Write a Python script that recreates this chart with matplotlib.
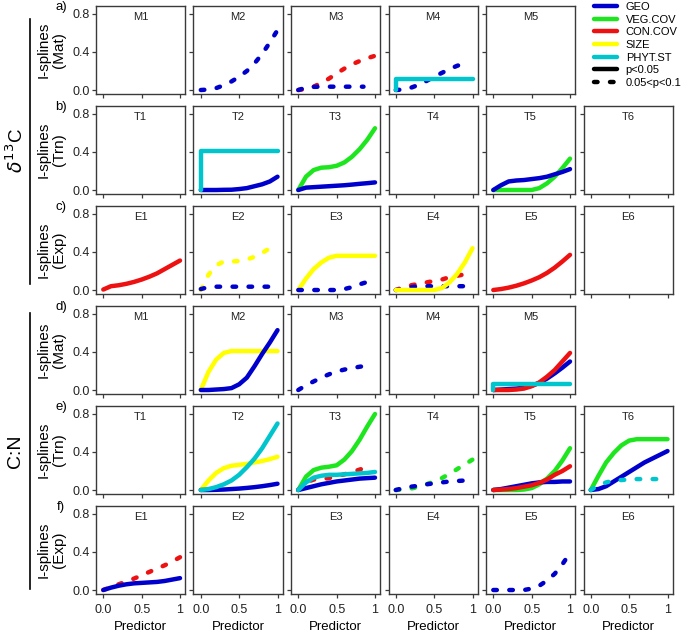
import matplotlib
matplotlib.use("Agg")
import matplotlib.pyplot as plt
from matplotlib.lines import Line2D

plt.rcParams["font.family"] = ["Liberation Sans", "DejaVu Sans"]

W, H = 685, 633

# predictor grid (0..1) and the "jump" grid for step shaped splines
pred = [0.0, 0.1, 0.2, 0.3, 0.4, 0.5, 0.6, 0.7, 0.8, 0.9, 1.0]
step = [0.0, 0.0, 1.0]

variables = ["GEO", "VEG.COV", "CON.COV", "SIZE", "PHYT.ST"]
colours = ["#0000CD", "#1EE61E", "#EE1111", "#FFFF00", "#00C5CD"]

row_letters = ["a)", "b)", "c)", "d)", "e)", "f)"]
row_types = ["Mat", "Trn", "Exp", "Mat", "Trn", "Exp"]
row_prefix = ["M", "T", "E", "M", "T", "E"]
row_ncols = [5, 6, 6, 5, 6, 6]

# ---- delta13C, maturation (a)
a_m2_geo = [0, .005, .02, .05, .09, .14, .2, .28, .38, .5, .63]
a_m3_con = [0, .01, .035, .075, .12, .175, .225, .27, .305, .335, .36]
a_m3_geo_x = [0, .1, .2, .3, .4, .5, .6, .7, .85]
a_m3_geo = [0, .025, .033, .035, .035, .035, .035, .035, .035]
a_m4_phyt = [0, .12, .12]
a_m4_geo = [0, .005, .025, .055, .095, .14, .18, .22, .255, .28]

# ---- delta13C, transition (b)
b_t2_phyt = [0, .41, .41]
b_t2_geo = [0, 0, 0, .002, .003, .01, .02, .04, .06, .09, .14]
b_t3_veg = [0, .14, .21, .235, .24, .255, .29, .35, .43, .53, .65]
b_t3_geo = [0, .025, .03, .035, .04, .045, .05, .057, .065, .072, .08]
b_t5_geo = [0, .05, .09, .1, .105, .115, .125, .14, .165, .19, .22]
b_t5_veg = [0, 0, 0, 0, 0, 0, .02, .07, .14, .23, .33]

# ---- delta13C, exploitation (c)
c_e1_con = [.005, .04, .05, .065, .085, .11, .14, .175, .22, .265, .31]
c_e2_x = [0, .1, .2, .3, .4, .5, .6, .7, .8, .9, .95]
c_e2_size = [0, .16, .26, .3, .3, .305, .32, .35, .39, .44, .47]
c_e2_geo = [.01, .03, .035, .035, .035, .035, .035, .035, .035, .035, .035]
c_e3_size = [0, .12, .22, .29, .34, .36, .36, .36, .36, .36, .36]
c_e3_geo = [0, 0, 0, 0, 0, 0, .01, .03, .06, .085, .11]
c_e4_size = [0, 0, 0, 0, 0, 0, .02, .08, .17, .29, .44]
c_e4_con = [0, .03, .05, .065, .08, .095, .11, .135, .15, .165, .175]
c_e4_geo = [0, .01, .03, .04, .04, .04, .04, .04, .04, .04, .04]
c_e5_con = [0, .01, .025, .045, .07, .1, .135, .18, .235, .3, .37]

# ---- C:N, maturation (d)
d_m2_size = [0, .19, .32, .39, .41, .41, .41, .41, .41, .41, .41]
d_m2_geo = [0, 0, .005, .01, .02, .06, .13, .25, .38, .5, .63]
d_m3_geo = [0, .05, .09, .13, .165, .195, .215, .23, .245, .255]
d_m5_phyt = [0, .06, .06]
d_m5_con = [0, 0, 0, .005, .015, .04, .08, .14, .21, .3, .39]
d_m5_geo = [0, .005, .01, .015, .025, .045, .075, .12, .175, .235, .3]

# ---- C:N, transition (e)
e_t2_phyt = [0, .01, .03, .06, .1, .16, .24, .33, .44, .57, .7]
e_t2_size = [0, .1, .18, .23, .255, .265, .275, .29, .305, .325, .35]
e_t2_geo = [0, 0, .002, .005, .01, .015, .022, .03, .04, .052, .066]
e_t3_veg = [0, .14, .21, .235, .245, .26, .32, .41, .53, .67, .8]
e_t3_phyt = [0, .08, .13, .15, .16, .16, .165, .17, .175, .18, .19]
e_t3_con = [0, .08, .11, .115, .125, .145, .165, .19, .215, .24]
e_t3_geo = [0, .02, .04, .06, .075, .09, .1, .11, .12, .125, .13]
e_t4_veg = [0, .005, .015, .035, .06, .09, .125, .17, .22, .27, .32]
e_t4_geo = [0, .02, .035, .045, .06, .07, .08, .09, .095, .1, .1]
e_t5_veg = [0, 0, 0, 0, .005, .02, .06, .12, .2, .31, .44]
e_t5_con = [0, .005, .01, .02, .035, .05, .075, .11, .16, .2, .25]
e_t5_geo = [0, .01, .025, .04, .055, .07, .08, .085, .085, .09, .09]
e_t6_veg = [0, .15, .29, .39, .47, .52, .535, .535, .535, .535, .535]
e_t6_geo = [0, .01, .04, .09, .14, .19, .24, .29, .33, .37, .41]
e_t6_phyt = [0, .05, .08, .1, .105, .11, .115, .115, .115, .115, .115]

# ---- C:N, exploitation (f)
f_e1_con = [0, .03, .06, .09, .12, .155, .19, .225, .26, .3, .345]
f_e1_geo = [0, .025, .045, .06, .07, .075, .08, .085, .095, .11, .125]
f_e5_geo = [0, 0, 0, 0, 0, .015, .045, .1, .17, .27, .39]

# (row, col) -> [(variable, significant?, x, y)]
curves = {
    (0, 1): [("GEO", False, pred, a_m2_geo)],
    (0, 2): [("CON.COV", False, pred, a_m3_con), ("GEO", False, a_m3_geo_x, a_m3_geo)],
    (0, 3): [("GEO", False, pred[:10], a_m4_geo), ("PHYT.ST", True, step, a_m4_phyt)],
    (1, 1): [("GEO", True, pred, b_t2_geo), ("PHYT.ST", True, step, b_t2_phyt)],
    (1, 2): [("VEG.COV", True, pred, b_t3_veg), ("GEO", True, pred, b_t3_geo)],
    (1, 4): [("VEG.COV", True, pred, b_t5_veg), ("GEO", True, pred, b_t5_geo)],
    (2, 0): [("CON.COV", True, pred, c_e1_con)],
    (2, 1): [("SIZE", False, c_e2_x, c_e2_size), ("GEO", False, c_e2_x, c_e2_geo)],
    (2, 2): [("SIZE", True, pred, c_e3_size), ("GEO", False, pred, c_e3_geo)],
    (2, 3): [("CON.COV", False, pred, c_e4_con), ("GEO", False, c_e2_x, c_e4_geo),
             ("SIZE", True, pred, c_e4_size)],
    (2, 4): [("CON.COV", True, pred, c_e5_con)],
    (3, 1): [("SIZE", True, pred, d_m2_size), ("GEO", True, pred, d_m2_geo)],
    (3, 2): [("GEO", False, pred[:10], d_m3_geo)],
    (3, 4): [("GEO", True, pred, d_m5_geo), ("CON.COV", True, pred, d_m5_con),
             ("PHYT.ST", True, step, d_m5_phyt)],
    (4, 1): [("SIZE", True, pred, e_t2_size), ("GEO", True, pred, e_t2_geo),
             ("PHYT.ST", True, pred, e_t2_phyt)],
    (4, 2): [("VEG.COV", True, pred, e_t3_veg), ("CON.COV", False, pred[:10], e_t3_con),
             ("GEO", True, pred, e_t3_geo), ("PHYT.ST", True, pred, e_t3_phyt)],
    (4, 3): [("VEG.COV", False, pred, e_t4_veg), ("GEO", False, pred, e_t4_geo)],
    (4, 4): [("VEG.COV", True, pred, e_t5_veg), ("GEO", True, pred, e_t5_geo),
             ("CON.COV", True, pred, e_t5_con)],
    (4, 5): [("VEG.COV", True, pred, e_t6_veg), ("GEO", True, pred, e_t6_geo),
             ("PHYT.ST", False, pred, e_t6_phyt)],
    (5, 0): [("CON.COV", False, pred, f_e1_con), ("GEO", True, pred, f_e1_geo)],
    (5, 4): [("GEO", False, pred, f_e5_geo)],
}

LW = 3.2
DASH = (0, (0.8, 2.8))
col_of = dict(zip(variables, colours))

fig = plt.figure(figsize=(W / 100, H / 100), dpi=100)

def fx(px):
    return px / W

def fy(px):
    return 1 - px / H

pw, ph = 89, 88
for r in range(6):
    top = 6 + 100 * r
    for c in range(row_ncols[r]):
        left = 96 + 97.5 * c
        ax = fig.add_axes([fx(left), fy(top + ph), pw / W, ph / H])
        ax.set_xlim(-0.095, 1.065)
        ax.set_ylim(-0.042, 0.884)
        for s in ax.spines.values():
            s.set_color("#3a3a3a")
            s.set_linewidth(1.0)
        ax.set_xticks([0, 0.5, 1])
        ax.set_yticks([0, 0.4, 0.8])
        ax.tick_params(axis="both", length=3, width=0.9, color="#3a3a3a",
                       labelsize=9, labelcolor="#222222")
        ax.tick_params(axis="y", pad=1.5)
        ax.tick_params(axis="x", pad=4.5)
        if c == 0:
            ax.set_yticklabels(["0.0", "0.4", "0.8"])
        else:
            ax.set_yticklabels([])
        if r == 5:
            ax.set_xticklabels(["0.0", "0.5", "1"])
            ax.set_xlabel("Predictor", fontsize=9.5, labelpad=3)
        else:
            ax.set_xticklabels([])
        ax.text(0.5, 0.93, f"{row_prefix[r]}{c + 1}", transform=ax.transAxes,
                ha="center", va="top", fontsize=8, color="#222222")
        for var, sig, xs, ys in curves.get((r, c), []):
            ls = "-" if sig else DASH
            ax.plot(xs, ys, color=col_of[var], lw=LW, linestyle=ls,
                    solid_capstyle="round", dash_capstyle="round",
                    solid_joinstyle="round", clip_on=False)

    fig.text(fx(61), fy(top + 1), row_letters[r], ha="center", va="center", fontsize=9.5)
    fig.text(fx(51), fy(top + ph / 2), f"I-splines\n({row_types[r]})", rotation=90,
             ha="center", va="center", fontsize=11, linespacing=1.1, multialignment="center")

# group labels with their bars
fig.text(fx(16), fy(151), r"$\delta^{13}$C", rotation=90, ha="center", va="center",
         fontsize=13.5, math_fontfamily="dejavusans")
fig.text(fx(16), fy(451), "C:N", rotation=90, ha="center", va="center", fontsize=14)
fig.lines.append(Line2D([fx(30), fx(30)], [fy(19), fy(284)], transform=fig.transFigure,
                        color="black", lw=1.2))
fig.lines.append(Line2D([fx(30), fx(30)], [fy(313), fy(589)], transform=fig.transFigure,
                        color="black", lw=1.2))

handles = [Line2D([], [], color=col, lw=LW, solid_capstyle="round") for col in colours]
handles += [Line2D([], [], color="black", lw=LW, solid_capstyle="round"),
            Line2D([], [], color="black", lw=LW, linestyle=DASH, dash_capstyle="round")]
labels = variables + ["p<0.05", "0.05<p<0.1"]
fig.legend(handles, labels, loc="upper left", bbox_to_anchor=(fx(594), fy(2)),
           frameon=False, fontsize=8, handlelength=2.1, handletextpad=0.75,
           labelspacing=0.24, borderpad=0, borderaxespad=0)

fig.savefig("out.png", dpi=100)
